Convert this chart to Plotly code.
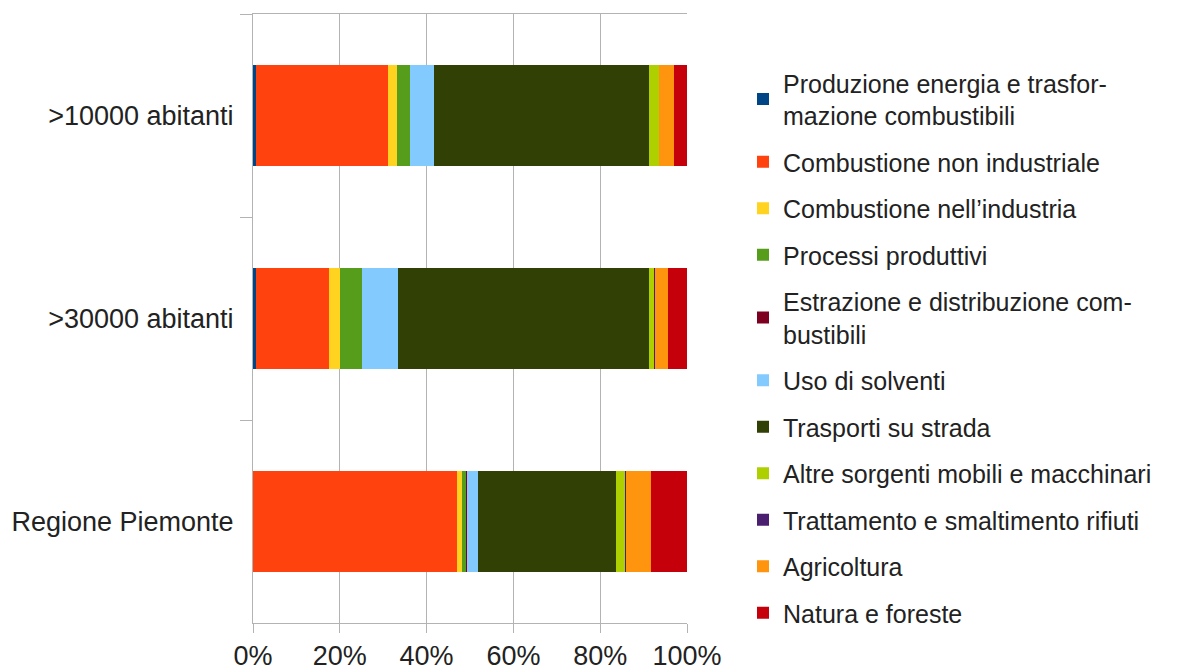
import plotly.graph_objects as go

# emission shares by source sector (percent of total)
categories = [">10000 abitanti", ">30000 abitanti", "Regione Piemonte"]

sectors = [
    "Produzione energia e trasfor-<br>mazione combustibili",
    "Combustione non industriale",
    "Combustione nell\u2019industria",
    "Processi produttivi",
    "Estrazione e distribuzione com-<br>bustibili",
    "Uso di solventi",
    "Trasporti su strada",
    "Altre sorgenti mobili e macchinari",
    "Trattamento e smaltimento rifiuti",
    "Agricoltura",
    "Natura e foreste",
]

produzione_energia = [0.8, 0.7, 0.1]
combustione_non_ind = [30.4, 16.9, 47.0]
combustione_ind = [1.9, 2.5, 1.1]
processi_produttivi = [3.0, 5.0, 1.1]
estrazione = [0.0, 0.0, 0.1]
solventi = [5.6, 8.3, 2.7]
trasporti = [49.6, 57.8, 31.9]
altre_mobili = [2.4, 1.2, 2.2]
rifiuti = [0.0, 0.3, 0.1]
agricoltura = [3.4, 3.0, 5.7]
natura = [3.0, 4.3, 8.3]

series = [produzione_energia, combustione_non_ind, combustione_ind,
          processi_produttivi, estrazione, solventi, trasporti,
          altre_mobili, rifiuti, agricoltura, natura]

colors = ["#004586", "#ff420e", "#ffd320", "#579d1c", "#7e0021", "#83caff",
          "#314004", "#aecf00", "#4b1f6f", "#ff950e", "#c5000b"]

x_ticks = [0, 20, 40, 60, 80, 100]
x_labels = ["0%", "20%", "40%", "60%", "80%", "100%"]

fig = go.Figure()
for name, vals, col in zip(sectors, series, colors):
    fig.add_trace(go.Bar(y=categories, x=vals, name=name, orientation="h",
                         marker=dict(color=col, line=dict(width=0)),
                         legendgroup=name))

# the page body has an 8px margin, so the figure is drawn 8px in from the corner
W, H = 1185, 660
grid = "#b3b3b3"
fig.update_layout(
    width=W, height=H,
    barmode="stack", barnorm="percent", bargap=0.5,
    plot_bgcolor="white", paper_bgcolor="white",
    font=dict(family="Liberation Sans", size=25, color="#222222"),
    margin=dict(l=245, r=506, t=6, b=45),
    legend=dict(x=735 / W, xref="container", xanchor="left",
                y=1 - 52 / H, yref="container", yanchor="top",
                traceorder="grouped", tracegroupgap=11,
                maxheight=1.0, font=dict(size=25)),
    xaxis=dict(range=[0, 100], tickmode="array", tickvals=x_ticks,
               ticktext=x_labels, tickfont=dict(size=27),
               showgrid=True, gridcolor=grid, gridwidth=1,
               showline=True, linecolor=grid, linewidth=1, mirror=True,
               ticks="outside", ticklen=9, tickcolor=grid, zeroline=False,
               automargin=False),
    yaxis=dict(autorange="reversed", showgrid=False, tickfont=dict(size=27),
               showline=True, linecolor=grid, linewidth=1,
               ticks="outside", tickson="boundaries", ticklen=12,
               tickcolor=grid, ticklabelstandoff=13, automargin=False),
)

fig.write_html("out.html")
